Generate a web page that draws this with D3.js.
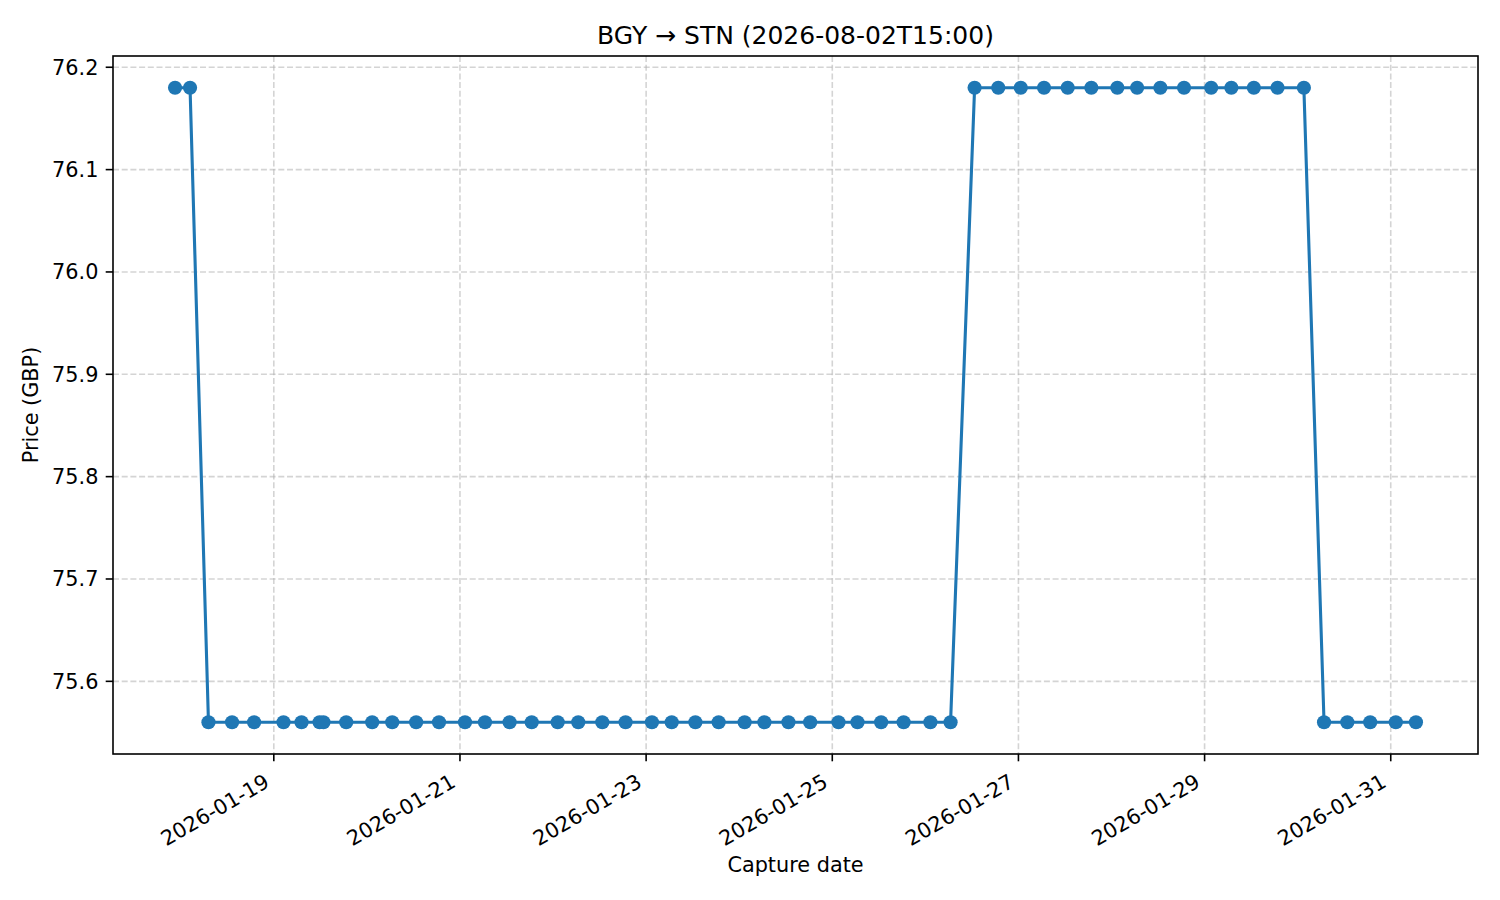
<!DOCTYPE html>
<html>
<head>
<meta charset="utf-8">
<script src="https://cdn.jsdelivr.net/npm/d3@7"></script>
<style>
  body { margin: 0; background: #fff; }
  text { font-family: "DejaVu Sans", sans-serif; fill: #000; }
</style>
</head>
<body>
<svg width="1500" height="900"></svg>
<script>
// capture times and prices
var captureTimes = [
  "2026-01-17T22:32", "2026-01-18T02:24", "2026-01-18T07:09", "2026-01-18T13:14", "2026-01-18T18:55",
  "2026-01-19T02:30", "2026-01-19T07:09", "2026-01-19T11:48", "2026-01-19T12:48", "2026-01-19T18:40",
  "2026-01-20T01:22", "2026-01-20T06:32", "2026-01-20T12:42", "2026-01-20T18:36",
  "2026-01-21T01:18", "2026-01-21T06:27", "2026-01-21T12:48", "2026-01-21T18:30",
  "2026-01-22T01:12", "2026-01-22T06:30", "2026-01-22T12:42", "2026-01-22T18:42",
  "2026-01-23T01:30", "2026-01-23T06:36", "2026-01-23T12:42", "2026-01-23T18:42",
  "2026-01-24T01:24", "2026-01-24T06:30", "2026-01-24T12:42", "2026-01-24T18:18",
  "2026-01-25T01:36", "2026-01-25T06:30", "2026-01-25T12:36", "2026-01-25T18:24",
  "2026-01-26T01:18", "2026-01-26T06:30", "2026-01-26T12:42", "2026-01-26T18:48",
  "2026-01-27T00:36", "2026-01-27T06:36", "2026-01-27T12:42", "2026-01-27T18:48",
  "2026-01-28T01:30", "2026-01-28T06:36", "2026-01-28T12:36", "2026-01-28T18:42",
  "2026-01-29T01:42", "2026-01-29T06:54", "2026-01-29T12:42", "2026-01-29T18:48",
  "2026-01-30T01:36", "2026-01-30T06:48", "2026-01-30T12:48", "2026-01-30T18:42",
  "2026-01-31T01:18", "2026-01-31T06:30"
];
var prices = [
  76.18, 76.18, 75.56, 75.56, 75.56,
  75.56, 75.56, 75.56, 75.56, 75.56,
  75.56, 75.56, 75.56, 75.56,
  75.56, 75.56, 75.56, 75.56,
  75.56, 75.56, 75.56, 75.56,
  75.56, 75.56, 75.56, 75.56,
  75.56, 75.56, 75.56, 75.56,
  75.56, 75.56, 75.56, 75.56,
  75.56, 75.56, 76.18, 76.18,
  76.18, 76.18, 76.18, 76.18,
  76.18, 76.18, 76.18, 76.18,
  76.18, 76.18, 76.18, 76.18,
  76.18, 75.56, 75.56, 75.56,
  75.56, 75.56
];
var xTickLabels = ["2026-01-19", "2026-01-21", "2026-01-23", "2026-01-25", "2026-01-27", "2026-01-29", "2026-01-31"];
var yTicks = [75.6, 75.7, 75.8, 75.9, 76.0, 76.1, 76.2];

var title = "BGY \u2192 STN (2026-08-02T15:00)";

var svg = d3.select("svg"),
    mLeft = 113, mRight = 1478, mTop = 56, mBottom = 754;

var parse = d3.timeParse("%Y-%m-%dT%H:%M"),
    parseDay = d3.timeParse("%Y-%m-%d");

var data = captureTimes.map(function(t, i) { return { t: parse(t), p: prices[i] }; });

// matplotlib style 5% margins
var tExt = d3.extent(data, function(d) { return d.t; }),
    tPad = (tExt[1] - tExt[0]) * 0.05,
    pExt = d3.extent(data, function(d) { return d.p; }),
    pPad = (pExt[1] - pExt[0]) * 0.05;

var x = d3.scaleTime()
    .domain([new Date(+tExt[0] - tPad), new Date(+tExt[1] + tPad)])
    .range([mLeft, mRight]);
var y = d3.scaleLinear()
    .domain([pExt[0] - pPad, pExt[1] + pPad])
    .range([mBottom, mTop]);

var xTicks = xTickLabels.map(parseDay);

// grid
var grid = svg.append("g");
grid.selectAll(".gx").data(xTicks).enter().append("line")
    .attr("x1", function(d) { return x(d); }).attr("x2", function(d) { return x(d); })
    .attr("y1", mTop).attr("y2", mBottom);
grid.selectAll(".gy").data(yTicks).enter().append("line")
    .attr("x1", mLeft).attr("x2", mRight)
    .attr("y1", function(d) { return y(d); }).attr("y2", function(d) { return y(d); });
grid.selectAll("line")
    .attr("stroke", "#b0b0b0").attr("stroke-opacity", 0.55)
    .attr("stroke-width", 1.6).attr("stroke-dasharray", "6,2.7");

// series
var line = d3.line()
    .x(function(d) { return x(d.t); })
    .y(function(d) { return y(d.p); });

svg.append("path")
    .datum(data)
    .attr("fill", "none")
    .attr("stroke", "#1f77b4")
    .attr("stroke-width", 3.1)
    .attr("stroke-linejoin", "round")
    .attr("d", line);

svg.selectAll(".pt").data(data).enter().append("circle")
    .attr("cx", function(d) { return x(d.t); })
    .attr("cy", function(d) { return y(d.p); })
    .attr("r", 7.1)
    .attr("fill", "#1f77b4");

// frame
svg.append("rect")
    .attr("x", mLeft).attr("y", mTop)
    .attr("width", mRight - mLeft).attr("height", mBottom - mTop)
    .attr("fill", "none").attr("stroke", "#000").attr("stroke-width", 1.6);

// x ticks
var xt = svg.append("g");
xt.selectAll("line").data(xTicks).enter().append("line")
    .attr("x1", function(d) { return x(d); }).attr("x2", function(d) { return x(d); })
    .attr("y1", mBottom).attr("y2", mBottom + 7.3)
    .attr("stroke", "#000").attr("stroke-width", 1.6);
xt.selectAll("text").data(xTicks).enter().append("text")
    .attr("transform", function(d) { return "translate(" + (x(d) - 3) + "," + 786 + ") rotate(-30)"; })
    .attr("text-anchor", "end")
    .style("font-size", "20.8px")
    .text(function(d, i) { return xTickLabels[i]; });

// y ticks
var yt = svg.append("g");
yt.selectAll("line").data(yTicks).enter().append("line")
    .attr("x1", mLeft - 7.3).attr("x2", mLeft)
    .attr("y1", function(d) { return y(d); }).attr("y2", function(d) { return y(d); })
    .attr("stroke", "#000").attr("stroke-width", 1.6);
yt.selectAll("text").data(yTicks).enter().append("text")
    .attr("x", mLeft - 14.6)
    .attr("y", function(d) { return y(d); })
    .attr("dy", "0.36em")
    .attr("text-anchor", "end")
    .style("font-size", "20.8px")
    .text(function(d) { return d3.format(".1f")(d); });

// labels
svg.append("text")
    .attr("x", (mLeft + mRight) / 2).attr("y", 872)
    .attr("text-anchor", "middle")
    .style("font-size", "20.8px")
    .text("Capture date");

svg.append("text")
    .attr("transform", "translate(38," + (mTop + mBottom) / 2 + ") rotate(-90)")
    .attr("text-anchor", "middle")
    .style("font-size", "20.8px")
    .text("Price (GBP)");

svg.append("text")
    .attr("x", (mLeft + mRight) / 2).attr("y", 44)
    .attr("text-anchor", "middle")
    .style("font-size", "25px")
    .text(title);
</script>
</body>
</html>
